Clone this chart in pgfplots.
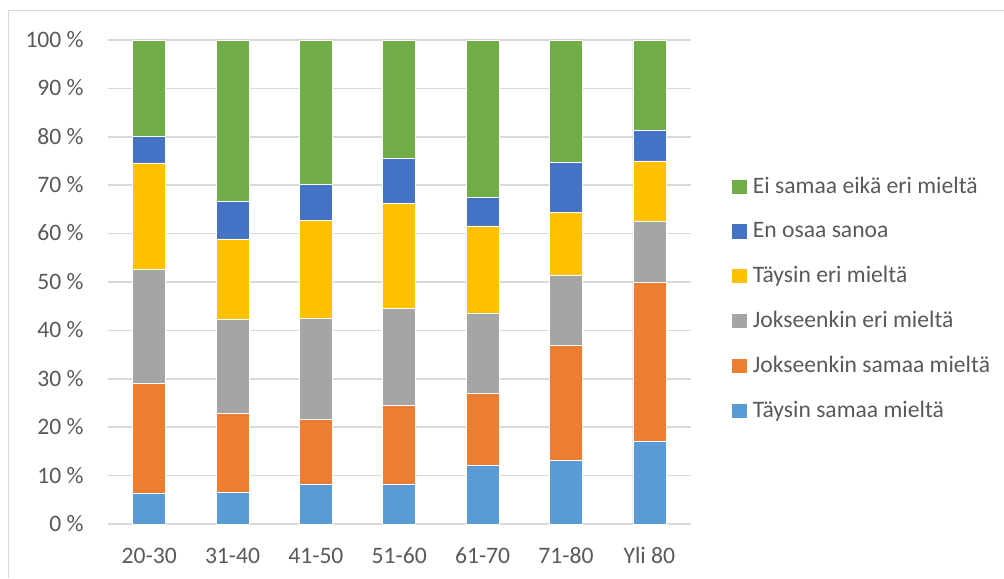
\documentclass[border=0pt]{standalone}
\usepackage{fontspec}
\setmainfont{Carlito}
\usepackage{pgfplots}
\usepackage{pgfplotstable}
\pgfplotsset{compat=1.18}

\definecolor{cTsam}{HTML}{5B9BD5}
\definecolor{cJsam}{HTML}{ED7D31}
\definecolor{cJeri}{HTML}{A5A5A5}
\definecolor{cTeri}{HTML}{FFC000}
\definecolor{cEos}{HTML}{4472C4}
\definecolor{cEi}{HTML}{70AD47}
\definecolor{gridc}{HTML}{D9D9D9}
\definecolor{txt}{HTML}{595959}

% Shares (%) by age group
\pgfplotstableread{
idx Tsam Jsam Jeri Teri Eos Ei
0   6.3  22.7 23.6 22.0 5.4  20.0
1   6.5  16.3 19.4 16.7 7.7  33.4
2   8.3  13.3 21.0 20.2 7.3  29.9
3   8.3  16.2 20.1 21.6 9.4  24.4
4   12.1 15.0 16.5 18.0 5.9  32.5
5   13.2 23.8 14.3 13.0 10.4 25.3
6   17.1 32.8 12.6 12.5 6.3  18.7
}\answers

\pgfplotsset{
  seg/.style={fill=#1, draw=white, line width=0.3pt,
    legend image code/.code={\fill[#1] (0pt,-3.4pt) rectangle (6.85pt,3.4pt);}},
}

\begin{document}
\begin{tikzpicture}[font=\fontsize{11.8}{14}\selectfont]
\begin{axis}[
  scale only axis, width=291.75pt, height=242pt,
  ybar stacked, bar width=16.5pt,
  xmin=-0.5, xmax=6.5, ymin=0, ymax=100,
  xtick={0,...,6},
  xticklabels={20-30,31-40,41-50,51-60,61-70,71-80,Yli 80},
  ytick={0,10,...,100},
  yticklabel={\pgfmathprintnumber{\tick}\ \%},
  /pgf/number format/assume math mode=true,
  axis line style={draw=none},
  major tick length=0pt,
  ymajorgrids, grid style={draw=gridc, line width=0.8pt},
  tick label style={text=txt},
  xticklabel style={anchor=base, inner sep=0pt, yshift=-19.65pt},
  yticklabel style={anchor=base east, inner sep=0pt, xshift=-11.75pt, yshift=-3.7pt},
  legend style={draw=none, fill=none, at={(1.0708,0.4652)}, anchor=west,
    inner sep=0pt, outer sep=0pt, row sep=12.85pt, column sep=3.15pt,
    nodes={inner sep=0pt, text=txt}},
  legend cell align=left,
  reverse legend,
  clip=false,
]
\addplot[seg=cTsam] table[x=idx, y=Tsam]{\answers};
\addplot[seg=cJsam] table[x=idx, y=Jsam]{\answers};
\addplot[seg=cJeri] table[x=idx, y=Jeri]{\answers};
\addplot[seg=cTeri] table[x=idx, y=Teri]{\answers};
\addplot[seg=cEos]  table[x=idx, y=Eos]{\answers};
\addplot[seg=cEi]   table[x=idx, y=Ei]{\answers};
\legend{Täysin samaa mieltä, Jokseenkin samaa mieltä, Jokseenkin eri mieltä,
  Täysin eri mieltä, En osaa sanoa, Ei samaa eikä eri mieltä}
\end{axis}
\draw[gridc, line width=0.6pt] (-49.4pt,-27pt) -- (-49.4pt,256.75pt) -- (448.25pt,256.75pt);
\pgfresetboundingbox
\useasboundingbox (-53.75pt,-27pt) rectangle (448.25pt,262pt);
\end{tikzpicture}
\end{document}
